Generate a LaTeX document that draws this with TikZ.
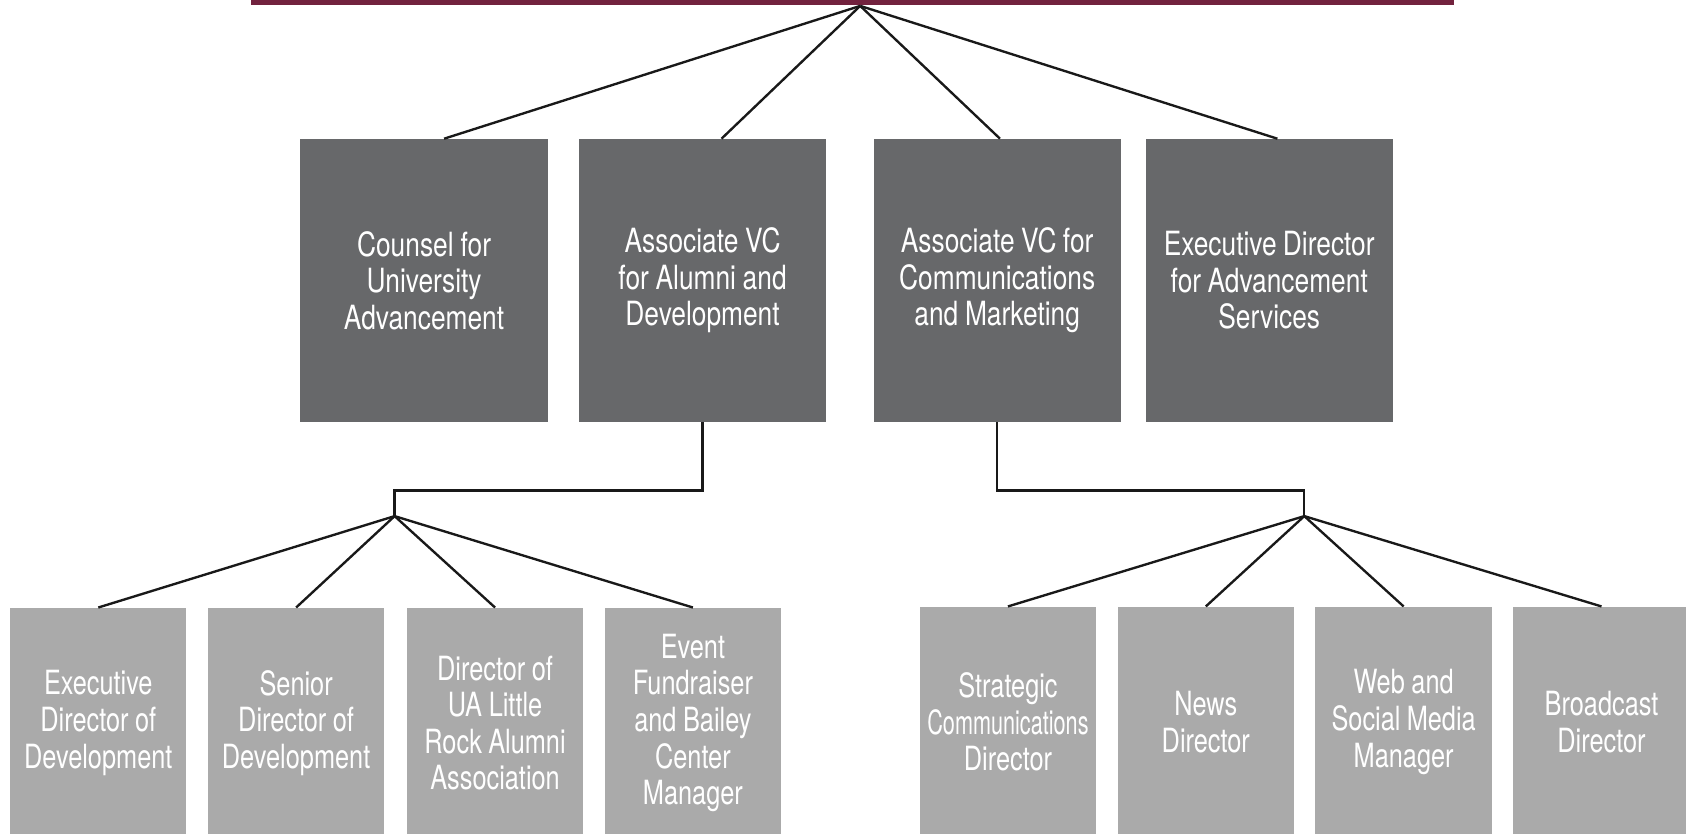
\documentclass[tikz,border=0pt]{standalone}
\usepackage{fontspec}
\usepackage{graphicx}
\setmainfont{TeX Gyre Heros}
\newfontfamily\topfont{TeX Gyre Heros}[FakeStretch=0.79]
\newfontfamily\botfont{TeX Gyre Heros}[FakeStretch=0.76]
\newcommand{\tightspaces}{\spaceskip=2.8pt plus 0.5pt minus 0.5pt\relax}
\usetikzlibrary{calc}
\definecolor{barcol}{HTML}{72223E}
\definecolor{darkbox}{HTML}{67686A}
\definecolor{lightbox}{HTML}{AAAAAA}
\begin{document}
\begin{tikzpicture}[x=0.5pt,y=-0.5pt,
  topbox/.style={fill=darkbox, draw=none, text=white, inner sep=0pt,
    minimum width=115pt, minimum height=131.5pt, text width=115pt,
    align=center, anchor=north west,
    font=\topfont\fontsize{15.5pt}{17pt}\selectfont,
    execute at begin node=\tightspaces},
  botbox/.style={fill=lightbox, draw=none, text=white, inner sep=0pt,
    minimum width=82pt, minimum height=107pt, text width=82pt,
    align=center, anchor=north west,
    font=\botfont\fontsize{15.5pt}{17pt}\selectfont,
    execute at begin node=\tightspaces},
  conn/.style={draw=black!90, line width=1.1pt}]
\useasboundingbox (0,0) rectangle (1568,775);
\clip (0,0) rectangle (1568,775);
% top bar
\node[fill=barcol, inner sep=0pt, minimum width=559.5pt, minimum height=10pt, anchor=south west] (bar) at (233,5.5) {};
\coordinate (top) at ($(bar.south west)+(567,0)$);
% top row
\node[topbox] (b1) at (279,129) {Counsel for\\University\\Advancement};
\node[topbox] (b2) at (538,129) {Associate VC\\for Alumni and\\Development};
\node[topbox] (b3) at (812,129) {Associate VC for\\Communications\\and Marketing};
\node[topbox] (b4) at (1065,129) {Executive Director\\for Advancement\\Services};
\coordinate (b1t) at ($(b1.north west)+(134,0)$);
\coordinate (b2t) at ($(b2.north west)+(133,0)$);
\coordinate (b3t) at ($(b3.north west)+(118,0)$);
\coordinate (b4t) at ($(b4.north west)+(123,0)$);
\draw[conn] (top) -- (b1t);
\draw[conn] (top) -- (b2t);
\draw[conn] (top) -- (b3t);
\draw[conn] (top) -- (b4t);
% bottom left
\node[botbox] (c1) at (9,565) {Executive\\Director of\\Development};
\node[botbox] (c2) at (193,565) {Senior\\Director of\\Development};
\node[botbox] (c3) at (378,565) {Director of\\UA Little\\Rock Alumni\\Association};
\node[botbox] (c4) at (562,565) {Event\\Fundraiser\\and Bailey\\Center\\Manager};
% bottom right
\node[botbox] (d1) at (855,564) {Strategic\\\scalebox{0.855}[1]{Communications}\\Director};
\node[botbox] (d2) at (1039,564) {News\\Director};
\node[botbox] (d3) at (1223,564) {Web and\\Social Media\\Manager};
\node[botbox] (d4) at (1407,564) {Broadcast\\Director};
% elbows
\coordinate (m1) at (367,456);
\coordinate (j1) at (367,480);
\coordinate (m2) at (1213,456);
\coordinate (j2) at (1213,480);
\draw[conn] (b2.south) |- (m1) -- (j1);
\draw[conn] (b3.south) |- (m2) -- (j2);
\foreach \n in {c1,c2,c3,c4} \draw[conn] (j1) -- (\n.north);
\foreach \n in {d1,d2,d3,d4} \draw[conn] (j2) -- (\n.north);
\end{tikzpicture}
\end{document}
